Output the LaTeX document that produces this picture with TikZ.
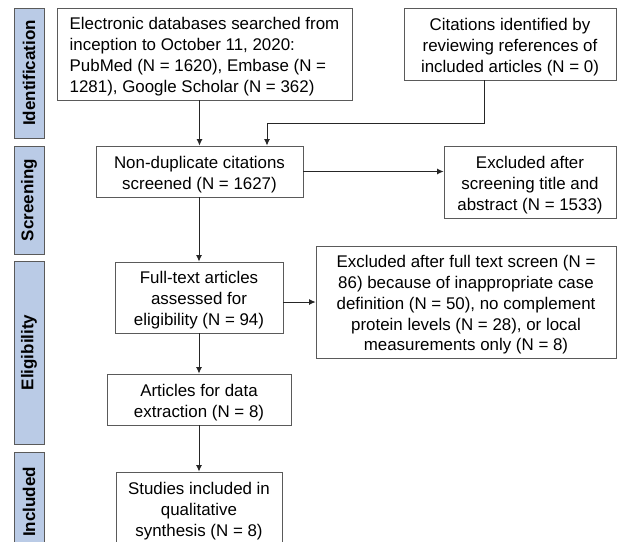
\documentclass[tikz,border=0pt]{standalone}
\usepackage{fontspec}
\setmainfont{Liberation Sans}
\usetikzlibrary{arrows.meta}
\definecolor{boxgray}{HTML}{5A5A5A}
\definecolor{linegray}{HTML}{262626}
\definecolor{barblue}{HTML}{BACBE6}
\newcommand\tstr{\rule{0pt}{17.8pt}}
\begin{document}
\begin{tikzpicture}[x=1pt,y=-1pt,
 box/.style={draw=boxgray, fill=white, line width=0.9pt, inner sep=0pt, font=\fontsize{16.9}{20.9}\selectfont, align=center},
 bar/.style={draw=boxgray, fill=barblue, line width=0.9pt, inner sep=0pt, rotate=90, minimum height=30, font=\fontsize{17}{20}\selectfont\bfseries},
 arr/.style={draw=linegray, line width=0.9pt, -{Latex[length=6.5pt,width=6pt]}},
 ln/.style={draw=linegray, line width=0.9pt}]
\useasboundingbox (0,0) rectangle (617,541);
\clip (0,0) rectangle (617,541);
\fill[white] (0,0) rectangle (617,541);
% phase bars
\node[bar, minimum width=130] (pid) at (29,73) {Identification};
\node[bar, minimum width=108] (psc) at (29,200) {Screening};
\node[bar, minimum width=183] (pel) at (29,352.5) {Eligibility};
\node[bar, minimum width=100] (pin) at (29,502) {Included};
% boxes
\node[box, align=left, minimum width=295, minimum height=92] (db) at (204.5,54)
 {\tstr Electronic databases searched from\\inception to October 11, 2020:\\PubMed (N = 1620), Embase (N =\\1281), Google Scholar (N = 362)};
\node[box, minimum width=212, minimum height=72] (ref) at (510,44)
 {\tstr Citations identified by\\reviewing references of\\included articles (N = 0)};
\node[box, minimum width=207, minimum height=51] (nd) at (199.5,171.5)
 {\tstr Non-duplicate citations\\screened (N = 1627)};
\node[box, minimum width=172, minimum height=72] (ex1) at (530,182)
 {\tstr Excluded after\\screening title and\\abstract (N = 1533)};
\node[box, minimum width=168, minimum height=71] (ft) at (199,297.5)
 {\tstr Full-text articles\\assessed for\\eligibility (N = 94)};
\node[box, minimum width=300, minimum height=112] (ex2) at (466,302)
 {\tstr Excluded after full text screen (N =\\86) because of inappropriate case\\definition (N = 50), no complement\\protein levels (N = 28), or local\\measurements only (N = 8)};
\node[box, minimum width=184, minimum height=51] (de) at (199,399.5)
 {\tstr Articles for data\\extraction (N = 8)};
\node[box, minimum width=166, minimum height=72] (inc) at (199,508)
 {\tstr Studies included in\\qualitative\\synthesis (N = 8)};
% connectors
\coordinate (c1) at (484,123);
\coordinate (c2) at (267,123);
\draw[arr] (db.south -| nd.north) -- (nd.north);
\draw[ln] (ref.south -| c1) -- (c1) -- (c2);
\draw[arr] (c2) -- (c2 |- nd.north);
\draw[arr] (nd.east) -- (nd.east -| ex1.west);
\draw[arr] (nd.south -| ft.north) -- (ft.north);
\draw[arr] (ex2.west -| ft.east) -- (ex2.west);
\draw[arr] (ft.south) -- (ft.south -| de.north) -- (de.north);
\draw[arr] (de.south) -- (inc.north);
\end{tikzpicture}
\end{document}
